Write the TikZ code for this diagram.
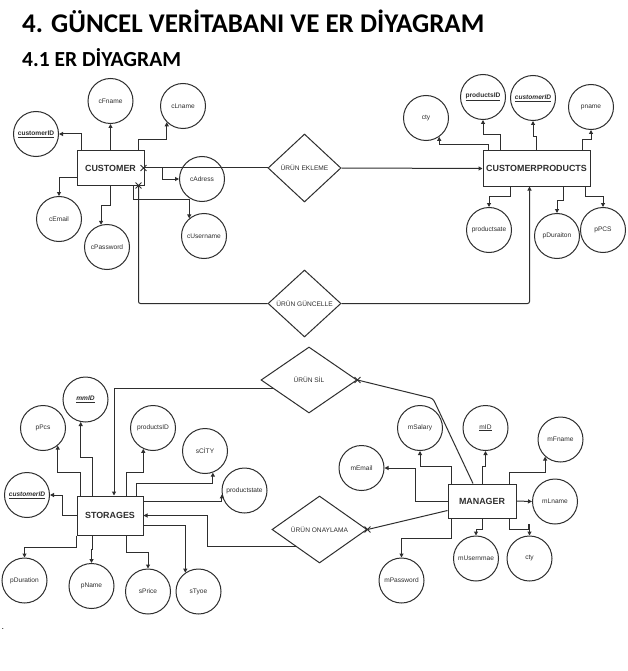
\documentclass[tikz,border=0pt]{standalone}
\usepackage{fontspec}
\setmainfont{Liberation Sans}
\newfontfamily\headfont{Carlito}
\usepackage{tikz}
\usetikzlibrary{shapes.geometric, shapes.misc, calc}
\usetikzlibrary{arrows.meta}
\colorlet{ink}{black!82}
\tikzset{
  base/.style={draw=ink, text=ink, line width=1pt, align=center, inner sep=0pt, font={\fontsize{6.6}{8}\selectfont}},
  ent/.style={base, rectangle, minimum width=67pt, minimum height=34pt, font={\fontsize{8.9}{10}\selectfont\bfseries}},
  attr/.style={base, circle, minimum size=45pt},
  rel/.style={base, diamond, minimum width=73pt, minimum height=67pt},
  % xmark node style is used for the cross at the end of a relation line
  xmark/.style={draw=ink, cross out, line width=0.9pt, minimum size=5pt, inner sep=0pt},
  head/.style={anchor=base west, inner sep=0pt, text=black},
  % -------------------------------------------------
  % Connector line styles
  link/.style={draw=ink, line width=1pt},
  att/.style={->, link}
}

\begin{document}
\begin{tikzpicture}[%
    x=1pt, y=-1pt,                       % pixel grid, y going down
    >={Triangle[length=4pt, width=4pt]}, % small filled tips
    ]
\fill[white] (0,0) rectangle (628,671);
\useasboundingbox (0,0) rectangle (628,671);

% -------------------------------------------------
% Headings
\node [head, font={\headfont\bfseries\fontsize{27}{30}\selectfont}] (title) at (22,33) {4. GÜNCEL VERİTABANI VE ER DİYAGRAM};
\node [head, font={\headfont\bfseries\fontsize{21.5}{24}\selectfont}] (subtitle) at (22,67) {4.1 ER DİYAGRAM};

% -------------------------------------------------
% Entities and relations
\node [ent] (customer) at (110.5,168) {CUSTOMER};
\node [ent, minimum width=107pt, minimum height=35pt] (custprod) at (536.5,168.5) {CUSTOMERPRODUCTS};
\node [ent, minimum width=66pt, minimum height=39pt] (storages) at (110,515.5) {STORAGES};
\node [ent, minimum width=68pt] (manager) at (482,501) {MANAGER};

\node [rel, minimum height=68pt] (ekleme) at (304.5,168) {ÜRÜN EKLEME};
\node [rel] (guncelle) at (304.5,303.5) {ÜRÜN GÜNCELLE};
\node [rel, minimum width=96pt, minimum height=66pt] (sil) at (309,380) {ÜRÜN SİL};
\node [rel, minimum width=95pt] (onay) at (319.5,529.5) {ÜRÜN ONAYLAMA};

% -------------------------------------------------
% CUSTOMER attributes
\node [attr] (c_id) at (36,134) {\underline{\textbf{customerID}}};
\node [attr] (c_fname) at (110.5,101) {cFname};
\node [attr] (c_lname) at (183,106) {cLname};
\node [attr] (c_adress) at (202,179) {cAdress};
\node [attr] (c_email) at (59,219) {cEmail};
\node [attr] (c_password) at (107,247) {cPassword};
\node [attr] (c_username) at (204,236) {cUsername};

% CUSTOMERPRODUCTS attributes
\node [attr] (cp_cty) at (426,118) {cty};
\node [attr] (cp_productsid) at (483,97) {\underline{\textbf{productsID}}};
\node [attr] (cp_customerid) at (533,98) {\underline{\textbf{\textit{customerID}}}};
\node [attr] (cp_pname) at (591,107) {pname};
\node [attr] (cp_productsate) at (489,230) {productsate};
\node [attr] (cp_pduraiton) at (557,236) {pDuraiton};
\node [attr] (cp_ppcs) at (603,230) {pPCS};

% STORAGES attributes
\node [attr] (s_mmid) at (85.5,399.5) {\underline{\textbf{\textit{mmID}}}};
\node [attr] (s_ppcs) at (43,428) {pPcs};
\node [attr] (s_productsid) at (153,428) {productsID};
\node [attr] (s_scity) at (205,451) {sCİTY};
\node [attr] (s_productstate) at (244.5,490.5) {productstate};
\node [attr] (s_customerid) at (27,495) {\underline{\textbf{\textit{customerID}}}};
\node [attr] (s_pduration) at (24.5,580.5) {pDuration};
\node [attr] (s_pname) at (91.5,586) {pName};
\node [attr] (s_sprice) at (148,591.5) {sPrice};
\node [attr] (s_stype) at (198.5,591.5) {sTyoe};

% MANAGER attributes
\node [attr] (m_salary) at (420,428) {mSalary};
\node [attr] (m_id) at (485.5,428) {\underline{mID}};
\node [attr] (m_fname) at (560.5,439.5) {mFname};
\node [attr] (m_email) at (361.5,468) {mEmail};
\node [attr] (m_lname) at (555,501.5) {mLname};
\node [attr] (m_usernmae) at (476,558.5) {mUsernmae};
\node [attr] (m_cty) at (529.5,558.5) {cty};
\node [attr] (m_password) at (401.5,580.5) {mPassword};

\node [inner sep=0pt, font={\fontsize{9}{10}\selectfont}] (dot) at (3,629) {.};

% -------------------------------------------------
% CUSTOMER links
\draw [att] ($(customer.north west)+(5,0)$) |- (c_id.east);
\draw [att] (customer.north -| c_fname.south) -- (c_fname.south);
\draw [att] ($(customer.north east)+(-6,0)$) -- ++(0,-11) -| (c_lname.south west);
\draw [att] (customer.east) -- ++(18,0) |- (c_adress.west);
\draw [att] ($(customer.south west)+(0,-8)$) -| (c_email.north);
\draw [att] (customer.south) -- ++(0,20) -| (c_password.105);
\draw [att] ($(customer.south east)+(-11,0)$) -- ++(0,14) -| (c_username.130);

% CUSTOMERPRODUCTS links
\draw [att] ($(custprod.north west)+(6,0)$) -- ++(0,-6) -| (cp_cty.305);
\draw [att] ($(custprod.north west)+(18,0)$) -- ++(0,-16) -| (cp_productsid.south);
\draw [att] (custprod.north) -- ++(0,-14) -| (cp_customerid.south);
\draw [att] ($(custprod.north east)+(-8,0)$) -- ++(0,-11) -| (cp_pname.south);
\draw [att] ($(custprod.south)+(-26,0)$) -- ++(0,10) -| (cp_productsate.north);
\draw [att] ($(custprod.south east)+(-27,0)$) -- ++(0,14) -| (cp_pduraiton.north);
\draw [att] ($(custprod.south east)+(-5,0)$) -- ++(0,10) -| (cp_ppcs.north);

% STORAGES links
\draw [att] ($(storages.north west)+(4,0)$) -- ++(0,-23) -| (s_ppcs.310);
\draw [att] ($(storages.north west)+(16,0)$) -- ++(0,-38) -| (s_mmid.258);
\draw [att] ($(storages.north east)+(-17,0)$) -- ++(0,-23) -| (s_productsid.245);
\draw [att] ($(storages.north east)+(-7,0)$) -- ++(0,-12) -| (s_scity.290);
\draw [att] ($(storages.north east)+(0,6)$) -| (s_productstate.190);
\draw [att] (storages.west) -- ++(-14,0) |- (s_customerid.east);
\draw [att] (storages.south west) -- ++(0,12) -| (s_pduration.north);
\draw [att] ($(storages.south west)+(16,0)$) -- ++(0,14) -| (s_pname.north);
\draw [att] ($(storages.south east)+(-17,0)$) -- ++(0,17) -| (s_sprice.north);
\draw [att] ($(storages.east)+(0,10)$) -| (s_stype.125);

% MANAGER links
\draw [att] ($(manager.north west)+(4,0)$) -- ++(0,-17) -| (m_salary.south);
\draw [att] (manager.west) -- ++(-32,0) |- (m_email.east);
\draw [att] (manager.north) -- ++(0,-17) -| (m_id.south);
\draw [att] ($(manager.north east)+(-7,0)$) -- ++(0,-11) -| (m_fname.228);
\draw [att] (manager.east) -- (m_lname.west);
\draw [att] (manager.south) -- ++(0,11) -| (m_usernmae.north);
\draw [att] ($(manager.south east)+(-7,0)$) -- ++(0,11) -- ++(19,0) -- ++(0,-5) -| (m_cty.north);
\draw [att] ($(manager.south west)+(4,0)$) -- ++(0,20) -| (m_password.north);

% -------------------------------------------------
% Relation lines
\node [xmark] (x_ekleme) at ($(customer.east)+(-1,0)$) {};
\draw [link] (ekleme.west) -- (x_ekleme.center);
\draw [->, link] (ekleme.east) -- (custprod.west);

\node [xmark] (x_guncelle) at ($(customer.south east)+(-6,0)$) {};
\draw [link, rounded corners=2pt] (x_guncelle.center) |- (guncelle.west);
\draw [->, link, rounded corners=2pt] (guncelle.east) -| ($(custprod.south)+(-7,0)$);

\draw [->, link] ($(sil.west)!0.25!(sil.south)$) -| ($(storages.north)+(4,0)$);
\node [xmark] (x_sil) at (sil.east) {};
\draw [link, rounded corners=3pt] ($(manager.north)+(-9,0)$) -- ++(-40,-85) -- (x_sil.center);

\draw [->, link] ($(onay.west)!0.5!(onay.south)$) -- ++(-88,0) |- (storages.east);
\node [xmark] (x_onay) at (onay.east) {};
\draw [link] ($(manager.south west)+(0,-8)$) -- (x_onay.center);

\end{tikzpicture}
\end{document}
